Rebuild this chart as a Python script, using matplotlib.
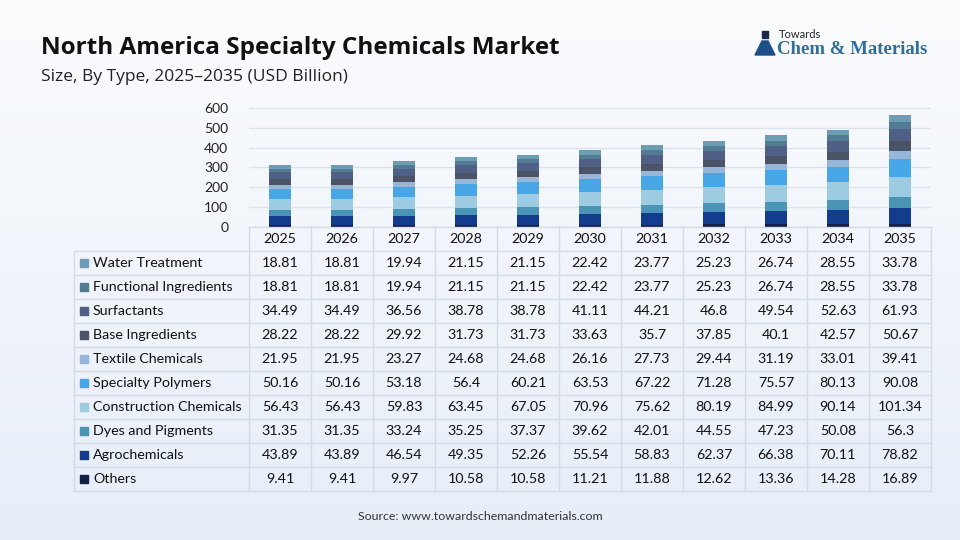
import numpy as np
import matplotlib.pyplot as plt
from matplotlib.patches import Rectangle, Polygon
from matplotlib.colors import LinearSegmentedColormap

years = ['2025', '2026', '2027', '2028', '2029', '2030', '2031', '2032', '2033', '2034', '2035']

# table order (top to bottom)
names = ['Water Treatment', 'Functional Ingredients', 'Surfactants', 'Base Ingredients',
         'Textile Chemicals', 'Specialty Polymers', 'Construction Chemicals',
         'Dyes and Pigments', 'Agrochemicals', 'Others']

water = [18.81, 18.81, 19.94, 21.15, 21.15, 22.42, 23.77, 25.23, 26.74, 28.55, 33.78]
functional = [18.81, 18.81, 19.94, 21.15, 21.15, 22.42, 23.77, 25.23, 26.74, 28.55, 33.78]
surfactants = [34.49, 34.49, 36.56, 38.78, 38.78, 41.11, 44.21, 46.8, 49.54, 52.63, 61.93]
base = [28.22, 28.22, 29.92, 31.73, 31.73, 33.63, 35.7, 37.85, 40.1, 42.57, 50.67]
textile = [21.95, 21.95, 23.27, 24.68, 24.68, 26.16, 27.73, 29.44, 31.19, 33.01, 39.41]
polymers = [50.16, 50.16, 53.18, 56.4, 60.21, 63.53, 67.22, 71.28, 75.57, 80.13, 90.08]
construction = [56.43, 56.43, 59.83, 63.45, 67.05, 70.96, 75.62, 80.19, 84.99, 90.14, 101.34]
dyes = [31.35, 31.35, 33.24, 35.25, 37.37, 39.62, 42.01, 44.55, 47.23, 50.08, 56.3]
agro = [43.89, 43.89, 46.54, 49.35, 52.26, 55.54, 58.83, 62.37, 66.38, 70.11, 78.82]
others = [9.41, 9.41, 9.97, 10.58, 10.58, 11.21, 11.88, 12.62, 13.36, 14.28, 16.89]

series = [water, functional, surfactants, base, textile, polymers, construction, dyes, agro, others]
colors = ['#6d9db2', '#527c93', '#4f5f86', '#4a5466', '#97b6d8', '#47a7e6',
          '#9dcbe1', '#4a94b6', '#143c8c', '#141f48']

yticks = [0, 100, 200, 300, 400, 500, 600]

def fmt(v):
    # table shows values without trailing zeros
    return ('%.2f' % v).rstrip('0').rstrip('.')

plt.rcParams['font.family'] = ['Lato', 'DejaVu Sans']

W, H = 960, 540
fig = plt.figure(figsize=(9.6, 5.4), dpi=100)

# background gradient
bg = fig.add_axes([0, 0, 1, 1])
grad = np.linspace(0, 1, 256).reshape(-1, 1)
cm = LinearSegmentedColormap.from_list('bg', ['#fbfcfe', '#e7eef8'])
bg.imshow(grad, aspect='auto', cmap=cm, extent=[0, 1, 0, 1], origin='upper')
bg.set_axis_off()

def fx(px):
    return px / W

def fy(py):
    return 1 - py / H

# chart axes
x0, x1 = 249, 931
ytop, ybot = 100, 227
ax = fig.add_axes([fx(x0), fy(ybot), fx(x1) - fx(x0), fy(ytop) - fy(ybot)])
ax.set_facecolor('none')
n = len(years)
xs = np.arange(n)
bottom = np.zeros(n)
for vals, c in zip(series[::-1], colors[::-1]):
    ax.bar(xs, vals, bottom=bottom, width=0.34, color=c, zorder=3)
    bottom += np.array(vals)
ax.set_xlim(-0.5, n - 0.5)
ax.set_ylim(0, 640)
ax.set_yticks(yticks)
ax.set_yticklabels([str(t) for t in yticks], fontsize=10, color='#222222')
ax.tick_params(axis='y', length=0, pad=15)
ax.set_xticks([])
ax.grid(axis='y', color='#dde3ea', linewidth=1, zorder=0)
for s in ax.spines.values():
    s.set_visible(False)

# table
tab_left = 74
row_h = 24
grid_c = '#d3dbe4'
line_kw = dict(color=grid_c, linewidth=1, transform=fig.transFigure)
col_w = (x1 - x0) / n

fig.add_artist(plt.Line2D([fx(x0), fx(x1)], [fy(ybot), fy(ybot)], **line_kw))
for i, y in enumerate(years):
    fig.text(fx(x0 + col_w * (i + 0.5)), fy(ybot + row_h / 2), y, ha='center', va='center',
             fontsize=10.3, color='#111111')
for k in range(1, len(names) + 2):
    yy = ybot + row_h * k
    fig.add_artist(plt.Line2D([fx(tab_left), fx(x1)], [fy(yy), fy(yy)], **line_kw))
table_bot = ybot + row_h * (len(names) + 1)
fig.add_artist(plt.Line2D([fx(tab_left), fx(tab_left)], [fy(ybot + row_h), fy(table_bot)], **line_kw))
for i in range(n + 1):
    xx = x0 + col_w * i
    fig.add_artist(plt.Line2D([fx(xx), fx(xx)], [fy(ybot), fy(table_bot)], **line_kw))

for r, name in enumerate(names):
    yc = ybot + row_h * (r + 1.5)
    fig.add_artist(Rectangle((fx(80), fy(yc + 4)), fx(8), 8 / H, color=colors[r],
                             transform=fig.transFigure))
    fig.text(fx(93), fy(yc), name, ha='left', va='center', fontsize=10.3, color='#111111')
    for i in range(n):
        fig.text(fx(x0 + col_w * (i + 0.5)), fy(yc), fmt(series[r][i]), ha='center', va='center',
                 fontsize=10.3, color='#111111')

# titles
fig.text(fx(41), fy(48), 'North America Specialty Chemicals Market', ha='left', va='center',
         fontsize=17.5, fontweight='bold', family=['Open Sans', 'DejaVu Sans'], color='#111111')
fig.text(fx(41), fy(77), 'Size, By Type, 2025\u20132035 (USD Billion)', ha='left', va='center',
         fontsize=12.5, family=['Open Sans', 'DejaVu Sans'], color='#222222')

# logo
fig.add_artist(Polygon([[fx(755), fy(55)], [fx(775), fy(55)], [fx(768), fy(41)], [fx(762), fy(41)]],
                       closed=True, color='#1d4f86', transform=fig.transFigure))
fig.add_artist(Rectangle((fx(762), fy(38)), fx(6), 7 / H, color='#1a2a4a', transform=fig.transFigure))
fig.text(fx(779), fy(35), 'Towards', ha='left', va='center', fontsize=8, color='#222222')
fig.text(fx(777), fy(49), 'Chem & Materials', ha='left', va='center', fontsize=13.5,
         fontweight='bold', family=['Liberation Serif'], color='#2c6e9c')

fig.text(0.5, fy(516), 'Source: www.towardschemandmaterials.com', ha='center', va='center',
         fontsize=8.9, color='#333333')

fig.savefig('out.png', dpi=100)
